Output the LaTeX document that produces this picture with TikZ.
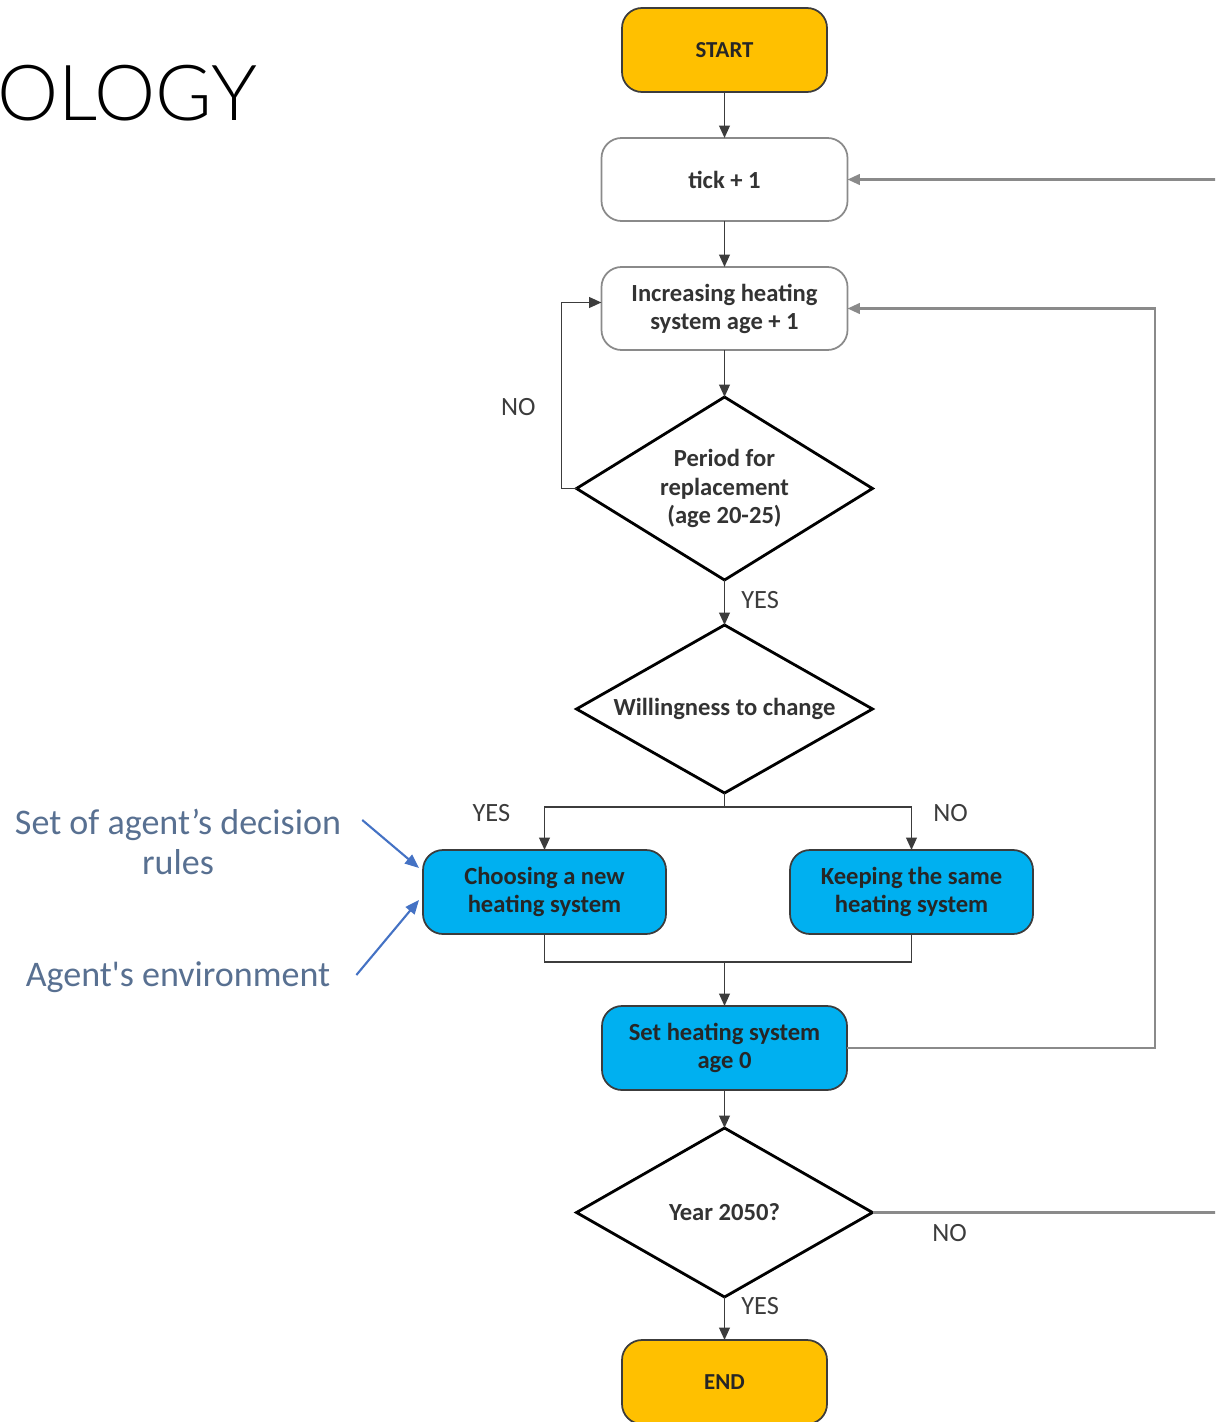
\documentclass[tikz,border=0pt]{standalone}
\usepackage{fontspec}
\setmainfont{Carlito}
\newfontfamily\thinfont{Lato Light}
\usetikzlibrary{shapes.geometric, arrows.meta, positioning}
\definecolor{termfill}{HTML}{FFC000}
\definecolor{actfill}{HTML}{00B0F0}
\definecolor{linegray}{HTML}{3C3C3C}
\definecolor{loopgray}{HTML}{8A8A8A}
\definecolor{notegray}{RGB}{88,112,145}
\definecolor{noteblue}{HTML}{4472C4}
\tikzstyle{startstop} = [
    rectangle, rounded corners=0.4cm, minimum width=4.1cm, minimum height=1.68cm,
    text centered, align=center, draw=linegray, line width=1pt, fill=termfill, outer sep=0pt,
    font=\fontsize{13}{15}\selectfont\bfseries, text=black!85
]
\tikzstyle{process} = [
    rectangle, rounded corners=0.4cm, minimum width=4.92cm, minimum height=1.66cm,
    text centered, align=center, draw=loopgray, line width=1pt, fill=white, outer sep=0pt,
    font=\fontsize{14}{16}\selectfont\bfseries, text=black!80
]
\tikzstyle{action} = [
    rectangle, rounded corners=0.4cm, minimum width=4.86cm, minimum height=1.68cm,
    text centered, align=center, draw=linegray, line width=1pt, fill=actfill, outer sep=0pt,
    font=\fontsize{14}{16}\selectfont\bfseries, text=black!85
]
\tikzstyle{decision} = [
    diamond, aspect=1.6, inner sep=0pt, minimum width=5.92cm, minimum height=3.66cm,
    text centered, align=center, draw=black, line width=1.6pt, fill=white, outer sep=0pt,
    font=\fontsize{14}{16}\selectfont\bfseries, text=black!80
]
\tikzstyle{answer} = [font=\fontsize{15}{17}\selectfont, text=linegray]
\tikzstyle{note} = [align=center, font=\fontsize{20.5}{22.5}\selectfont, text=notegray]
\tikzstyle{arrow} = [line width=1.1pt, draw=linegray, -{Triangle[length=7pt,width=6pt]}]
\tikzstyle{looparrow} = [line width=1.3pt, draw=loopgray, -{Triangle[length=7pt,width=6pt]}]
\tikzstyle{notearrow} = [line width=1.2pt, draw=noteblue, -{Triangle[length=8pt,width=6.5pt]}]

\begin{document}
\begin{tikzpicture}
\useasboundingbox (0,0) rectangle (24.3,-28.44);
\clip (0,0) rectangle (24.3,-28.44);

% slide title, cut off at the left
\node (title) [anchor=west, inner sep=0pt, font=\thinfont\fontsize{44}{48}\selectfont] at (-0.06,-1.86) {OLOGY};

% main column
\node (start) [startstop] at (14.49,-1.0)                  {START};
\node (tick)  [process, below=0.92cm of start]             {tick + 1};
\node (inc)   [process, below=0.92cm of tick]              {Increasing heating\\system age + 1};
\node (d1)    [decision, below=0.94cm of inc]              {Period for\\replacement\\(age 20-25)};
\node (d2)    [decision, minimum height=3.36cm, below=0.9cm of d1] {Willingness to change};

% the two choices
\node (choose) [action, below=1.14cm of d2, xshift=-3.6cm]  {Choosing a new\\heating system};
\node (keep)   [action, below=1.14cm of d2, xshift=3.74cm]  {Keeping the same\\heating system};

\node (set)   [action, minimum width=4.9cm, below=4.26cm of d2] {Set heating system\\age 0};
\node (d3)    [decision, minimum height=3.38cm, below=0.76cm of set] {Year 2050?};
\node (end)   [startstop, below=0.86cm of d3]              {END};

% notes on the left
\node (rules) [note] at (3.56,-16.84) {Set of agent’s decision\\rules};
\node (env)   [note] at (3.56,-19.54) {Agent\textquotesingle s environment};

% Flechas
\draw [arrow] (start) -- (tick);
\draw [arrow] (tick) -- (inc);
\draw [arrow] (inc) -- (d1);
\draw [arrow] (d1) -- node (yes1) [answer, right=0.2cm, pos=0.45] {YES} (d2);
\draw [arrow] (d1.west) -- ++(-0.3,0) |- node (no1) [answer, left=0.38cm, pos=0.22] {NO} ([yshift=0.12cm]inc.west);

\draw [line width=1.1pt, draw=linegray] (d2.south) -- ++(0,-0.28) coordinate (split);
\draw [arrow] (split) -| node (yes2) [answer, left=0.55cm, pos=0.57] {YES} (choose.north);
\draw [arrow] (split) -| node (no2) [answer, right=0.3cm, pos=0.57] {NO} (keep.north);

\draw [line width=1.1pt, draw=linegray] (choose.south) -- ++(0,-0.56) coordinate (low) -| (keep.south);
\draw [arrow] (low -| set.north) -- (set.north);

\draw [looparrow] (set.east) -- ++(6.16,0) |- (inc.east);
\draw [arrow] (set) -- (d3);
\draw [arrow] (d3) -- node (yes3) [answer, right=0.2cm, pos=0.2] {YES} (end);
\draw [looparrow] (d3.east) -- node (no3) [answer, below=3pt, pos=0.22] {NO} ++(7,0) |- (tick.east);

\draw [notearrow] ([shift={(0.3,0.44)}]rules.east) -- ([shift={(-0.08,0.48)}]choose.west);
\draw [notearrow] ([shift={(0.4,0.04)}]env.east) -- ([shift={(-0.08,-0.16)}]choose.west);

\end{tikzpicture}
\end{document}
